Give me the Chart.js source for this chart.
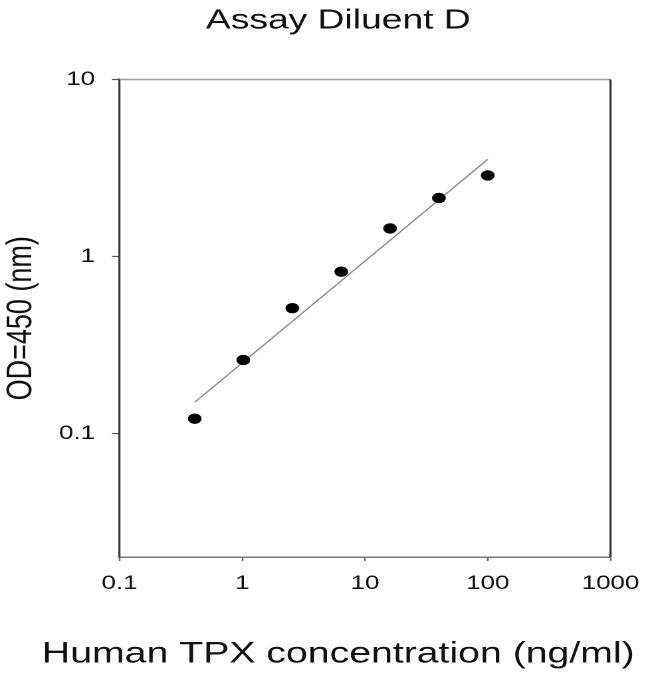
<!DOCTYPE html>
<html>
<head>
<meta charset="utf-8">
<script src="https://cdn.jsdelivr.net/npm/chart.js@4/dist/chart.umd.min.js"></script>
<style>
  html, body { margin: 0; padding: 0; background: #fff; overflow: hidden; }
  /* the source figure is stretched sideways, so the chart is drawn narrow and widened */
  #wrap { width: 489px; height: 674px; transform: scaleX(1.3292); transform-origin: 0 0; }
</style>
</head>
<body>
<div id="wrap"><canvas id="odChart" width="489" height="674"></canvas></div>
<script>
// standard curve, Assay Diluent D
const concentrations = [0.41, 1.02, 2.56, 6.4, 16, 40, 100];   // ng/ml
const odValues = [0.121, 0.26, 0.51, 0.82, 1.44, 2.14, 2.87];
const fitX = [0.41, 100];
const fitY = [0.15, 3.54];
const xTicks = [0.1, 1, 10, 100, 1000];
const yTicks = [0.1, 1, 10];

const FONT = "'Liberation Sans', Arial, sans-serif";
const textColor = '#111';

// top and right edges of the frame
const framePlugin = {
    id: 'frame',
    afterDraw(chart) {
        const { ctx, chartArea: a } = chart;
        ctx.save();
        ctx.strokeStyle = '#9a9a9a';
        ctx.lineWidth = 1.5;
        ctx.beginPath();
        ctx.moveTo(a.left, a.top);
        ctx.lineTo(a.right, a.top);
        ctx.stroke();
        ctx.strokeStyle = '#333';
        ctx.lineWidth = 1.6;
        ctx.beginPath();
        ctx.moveTo(a.right, a.top);
        ctx.lineTo(a.right, a.bottom);
        ctx.stroke();
        ctx.restore();
    }
};

new Chart(document.getElementById('odChart'), {
    type: 'scatter',
    data: {
        datasets: [{
            label: 'OD',
            data: concentrations.map((c, i) => ({ x: c, y: odValues[i] })),
            backgroundColor: '#000',
            borderColor: '#000',
            borderWidth: 0,
            pointRadius: 5.2,
            showLine: false
        }, {
            label: 'Fit',
            data: fitX.map((c, i) => ({ x: c, y: fitY[i] })),
            borderColor: '#8c8c8c',
            borderWidth: 1.2,
            pointRadius: 0,
            showLine: true
        }]
    },
    options: {
        responsive: false,
        animation: false,
        devicePixelRatio: 2,
        layout: { padding: { left: 21.6, right: 1.6, top: 0, bottom: 0 } },
        plugins: {
            legend: { display: false },
            tooltip: { enabled: false },
            title: {
                display: true,
                text: 'Assay Diluent D',
                color: textColor,
                font: { family: FONT, size: 28, weight: 'normal' },
                padding: { top: 4.2, bottom: 41.7 }
            },
            subtitle: {
                display: true,
                position: 'bottom',
                text: 'Human TPX concentration (ng/ml)',
                color: textColor,
                font: { family: FONT, size: 29.5, weight: 'normal' },
                padding: { top: 30.3, bottom: 2 }
            }
        },
        scales: {
            x: {
                type: 'logarithmic',
                min: 0.1,
                max: 1000,
                afterBuildTicks: scale => { scale.ticks = xTicks.map(v => ({ value: v })); },
                ticks: {
                    color: textColor,
                    font: { family: FONT, size: 19.5, lineHeight: 1.5 },
                    padding: 8,
                    maxRotation: 0,
                    callback: v => String(v)
                },
                grid: { drawOnChartArea: false, tickLength: 4, tickColor: '#666', tickWidth: 1.2 },
                border: { color: '#7a7a7a', width: 1.5 }
            },
            y: {
                type: 'logarithmic',
                min: 0.02,
                max: 10,
                afterBuildTicks: scale => { scale.ticks = yTicks.map(v => ({ value: v })); },
                ticks: {
                    color: textColor,
                    font: { family: FONT, size: 19.5 },
                    padding: 12.8,
                    callback: v => String(v)
                },
                grid: { drawOnChartArea: false, tickLength: 5.6, tickColor: '#555', tickWidth: 1.2 },
                border: { color: '#3a3a3a', width: 1.6 },
                title: {
                    display: true,
                    text: 'OD=450 (nm)',
                    color: textColor,
                    font: { family: FONT, size: 27 },
                    padding: { top: -21.6, bottom: -0.8 }
                }
            }
        }
    },
    plugins: [framePlugin]
});
</script>
</body>
</html>
